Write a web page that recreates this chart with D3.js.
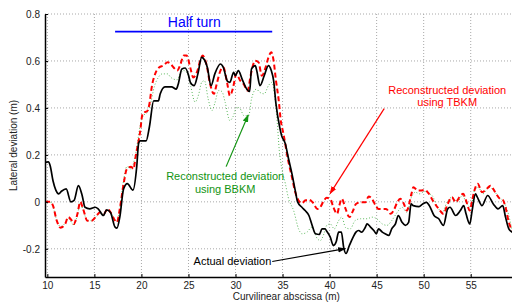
<!DOCTYPE html>
<html>
<head>
<meta charset="utf-8">
<script src="https://cdn.jsdelivr.net/npm/d3@7"></script>
<style>
  body { margin: 0; background: #fff; }
  svg { display: block; font-family: "Liberation Sans", Arial, sans-serif; }
  .grid line { stroke: #a8a8a8; stroke-dasharray: 1,2; }
  .axis path, .axis line { stroke: #000; }
  .axis text { fill: #222; font-size: 10px; }
</style>
</head>
<body>
<svg width="512" height="303"></svg>
<script>
var xTicks = [10, 15, 20, 25, 30, 35, 40, 45, 50, 55],
    yTicks = [-0.2, 0, 0.2, 0.4, 0.6, 0.8];

var actual = [[9.76,0.168],[10.1,0.17],[10.3,0.154],[10.6,0.09],[10.9,0.05],[11.2,0.034],[11.5,0.045],[12.0,0.055],[12.5,0.0],[12.84,0.006],[13.3,0.069],[13.7,0.027],[14.0,-0.023],[14.5,-0.03],[15.1,-0.023],[15.4,-0.03],[15.96,-0.058],[16.3,-0.034],[16.7,-0.044],[17.2,-0.108],[17.4,-0.112],[17.7,-0.065],[18.1,0.055],[18.5,0.078],[19.1,0.05],[19.5,0.15],[19.7,0.25],[19.85,0.26],[20.5,0.26],[20.85,0.32],[21.3,0.43],[21.8,0.43],[22.0,0.46],[22.5,0.49],[23.2,0.49],[23.7,0.48],[23.9,0.5],[24.3,0.566],[24.65,0.57],[25.0,0.54],[25.2,0.509],[25.6,0.495],[26.0,0.545],[26.4,0.615],[26.6,0.61],[27.0,0.573],[27.4,0.495],[27.8,0.545],[28.4,0.587],[28.7,0.573],[29.15,0.513],[29.4,0.509],[29.8,0.552],[29.97,0.537],[30.3,0.559],[30.7,0.523],[31.2,0.48],[31.5,0.47],[31.7,0.566],[32.1,0.58],[32.25,0.56],[32.6,0.495],[33.05,0.537],[33.5,0.58],[33.8,0.559],[34.05,0.516],[34.3,0.417],[34.7,0.317],[34.9,0.282],[35.3,0.247],[35.6,0.19],[36.0,0.119],[36.35,0.048],[36.6,0.0],[37.06,-0.023],[37.4,-0.037],[37.8,-0.058],[38.1,-0.094],[38.5,-0.136],[38.9,-0.139],[39.2,-0.115],[39.5,-0.115],[39.7,-0.125],[40.07,-0.15],[40.4,-0.186],[40.7,-0.17],[40.96,-0.129],[41.25,-0.129],[41.5,-0.195],[41.75,-0.22],[42.1,-0.186],[42.5,-0.15],[42.8,-0.129],[43.1,-0.122],[43.4,-0.129],[43.8,-0.108],[43.98,-0.094],[44.3,-0.105],[44.7,-0.122],[44.97,-0.136],[45.2,-0.115],[45.6,-0.129],[45.9,-0.136],[46.3,-0.143],[46.6,-0.115],[47.0,-0.094],[47.3,-0.058],[47.7,-0.087],[48.05,-0.1],[48.4,-0.087],[48.66,-0.009],[48.9,-0.016],[49.5,-0.02],[49.9,-0.009],[50.3,-0.002],[50.6,-0.016],[51.1,-0.058],[51.6,-0.072],[52.1,-0.1],[52.55,-0.03],[52.8,-0.023],[53.4,-0.058],[53.9,-0.037],[54.25,-0.016],[54.5,-0.051],[54.9,-0.094],[55.15,-0.037],[55.5,0.034],[55.7,0.02],[56.2,-0.016],[56.8,0.027],[57.4,-0.009],[57.9,-0.03],[58.4,-0.016],[58.7,-0.065],[59.05,-0.115],[59.4,-0.129]];

var tbkm = [[9.76,0.0],[10.3,0.0],[10.6,-0.016],[11.0,-0.08],[11.4,-0.11],[11.9,-0.094],[12.2,-0.065],[12.6,-0.08],[12.8,-0.094],[13.2,-0.051],[13.5,0.0],[13.8,-0.03],[14.26,-0.08],[14.7,-0.08],[15.25,-0.058],[15.6,-0.044],[16.0,-0.051],[16.4,-0.03],[16.7,-0.044],[17.2,-0.08],[17.4,-0.087],[17.7,-0.03],[18.1,0.075],[18.45,0.14],[18.9,0.15],[19.15,0.14],[19.4,0.197],[19.7,0.26],[19.9,0.31],[20.04,0.36],[20.2,0.38],[20.6,0.386],[20.85,0.417],[21.1,0.49],[21.46,0.545],[21.9,0.573],[22.3,0.58],[22.8,0.594],[23.05,0.59],[23.4,0.573],[23.8,0.559],[24.1,0.58],[24.5,0.623],[24.8,0.623],[25.2,0.57],[25.5,0.53],[25.9,0.552],[26.3,0.608],[26.5,0.623],[26.9,0.587],[27.3,0.502],[27.7,0.46],[28.0,0.502],[28.4,0.559],[28.7,0.573],[29.1,0.509],[29.4,0.452],[29.7,0.48],[30.1,0.545],[30.5,0.516],[30.85,0.502],[31.3,0.474],[31.6,0.537],[32.1,0.601],[32.45,0.594],[32.8,0.537],[33.2,0.573],[33.5,0.615],[33.8,0.637],[34.05,0.601],[34.3,0.516],[34.6,0.43],[34.8,0.35],[35.1,0.289],[35.6,0.176],[36.0,0.105],[36.35,0.041],[36.7,0.006],[37.06,-0.006],[37.4,0.006],[37.8,0.009],[38.2,-0.002],[38.7,-0.03],[39.0,-0.023],[39.4,0.006],[39.7,0.017],[40.07,0.013],[40.4,-0.023],[40.8,-0.051],[41.03,-0.016],[41.3,0.013],[41.7,-0.03],[42.1,-0.065],[42.5,-0.037],[42.8,-0.009],[43.3,-0.002],[43.8,-0.002],[44.15,0.023],[44.5,0.013],[44.9,-0.016],[45.2,-0.03],[45.6,-0.03],[46.0,-0.03],[46.5,-0.051],[46.8,-0.037],[47.2,-0.002],[47.5,0.013],[47.9,-0.009],[48.2,-0.037],[48.7,0.034],[48.9,0.062],[49.4,0.048],[49.7,0.048],[50.1,0.051],[50.45,0.04],[51.06,0.0],[51.6,-0.03],[52.1,-0.051],[52.55,-0.009],[53.0,0.02],[53.4,-0.002],[53.8,0.02],[54.2,0.034],[54.5,0.006],[54.9,-0.037],[55.15,0.006],[55.5,0.062],[55.75,0.077],[56.2,0.041],[56.7,0.055],[57.1,0.069],[57.6,0.041],[58.1,0.013],[58.4,0.009],[58.7,-0.023],[59.05,-0.087],[59.4,-0.122]];

var bbkm = [[9.76,0.0],[10.3,0.0],[10.6,-0.02],[11.0,-0.08],[11.4,-0.105],[11.9,-0.09],[12.2,-0.07],[12.6,-0.09],[12.8,-0.1],[13.2,-0.055],[13.5,-0.005],[13.8,-0.035],[14.26,-0.08],[14.7,-0.08],[15.25,-0.06],[15.6,-0.045],[16.0,-0.055],[16.4,-0.035],[16.7,-0.045],[17.2,-0.075],[17.4,-0.085],[17.7,-0.03],[18.1,0.09],[18.45,0.15],[18.9,0.14],[19.4,0.21],[19.9,0.33],[20.2,0.367],[20.6,0.38],[21.0,0.424],[21.35,0.488],[21.8,0.53],[22.2,0.545],[22.8,0.545],[23.05,0.533],[23.4,0.523],[23.8,0.52],[24.1,0.545],[24.5,0.559],[24.9,0.545],[25.25,0.49],[25.7,0.425],[26.1,0.46],[26.4,0.509],[26.7,0.516],[27.1,0.437],[27.5,0.389],[27.8,0.42],[28.2,0.474],[28.55,0.47],[28.9,0.424],[29.4,0.346],[29.7,0.36],[30.15,0.403],[30.5,0.396],[30.9,0.367],[31.4,0.367],[31.7,0.438],[32.2,0.48],[32.6,0.466],[33.05,0.46],[33.5,0.495],[33.85,0.509],[34.2,0.44],[34.45,0.33],[34.65,0.22],[34.9,0.147],[35.3,0.077],[35.6,0.02],[36.2,-0.04],[36.7,-0.115],[37.06,-0.136],[37.6,-0.129],[38.1,-0.108],[38.7,-0.157],[39.0,-0.165],[39.4,-0.136],[39.7,-0.1],[40.07,-0.094],[40.5,-0.115],[40.96,-0.08],[41.3,-0.065],[41.7,-0.11],[42.2,-0.115],[42.7,-0.08],[43.3,-0.072],[44.0,-0.072],[44.5,-0.065],[45.0,-0.072],[45.6,-0.094],[46.1,-0.1],[46.6,-0.08],[47.2,-0.044],[47.7,-0.023],[48.2,-0.044],[48.7,0.02],[49.1,0.041],[49.6,0.034],[50.1,0.045],[50.6,0.034],[50.9,0.027],[51.4,-0.016],[51.96,-0.044],[52.5,0.0],[53.0,0.02],[53.6,0.0],[54.1,0.027],[54.6,-0.009],[55.0,-0.023],[55.4,0.048],[55.8,0.062],[56.3,0.034],[56.9,0.062],[57.45,0.048],[57.98,0.02],[58.5,0.0],[58.9,-0.037],[59.4,-0.122]];

var halfTurn = [17.2, 33.9];

var svg = d3.select("svg"),
    margin = {top: 14, right: -2, bottom: 26, left: 45},
    width = +svg.attr("width") - margin.left - margin.right,
    height = +svg.attr("height") - margin.top - margin.bottom;

var x = d3.scaleLinear().domain([9.75, 59.6]).range([0, width]),
    y = d3.scaleLinear().domain([-0.32, 0.8]).range([height, 0]);

var g = svg.append("g")
    .attr("transform", "translate(" + margin.left + "," + margin.top + ")");

var defs = svg.append("defs");
defs.append("clipPath").attr("id", "clip")
  .append("rect").attr("width", width).attr("height", height);

[["arrowRed", "#ff0000"], ["arrowGreen", "#129412"], ["arrowBlack", "#000"]].forEach(function(m) {
  defs.append("marker")
      .attr("id", m[0])
      .attr("viewBox", "0 0 10 10")
      .attr("refX", 9).attr("refY", 5)
      .attr("markerUnits", "userSpaceOnUse")
      .attr("markerWidth", 8).attr("markerHeight", 8)
      .attr("orient", "auto")
    .append("path")
      .attr("d", "M0,1.5L10,5L0,8.5z")
      .attr("fill", m[1]);
});

// grid
g.append("g").attr("class", "grid")
  .selectAll("line").data(xTicks).enter().append("line")
    .attr("x1", function(d) { return x(d); }).attr("x2", function(d) { return x(d); })
    .attr("y1", 0).attr("y2", height);
g.append("g").attr("class", "grid")
  .selectAll("line").data(yTicks).enter().append("line")
    .attr("y1", function(d) { return y(d); }).attr("y2", function(d) { return y(d); })
    .attr("x1", 0).attr("x2", width);

var line = d3.line()
    .x(function(d) { return x(d[0]); })
    .y(function(d) { return y(d[1]); })
    .curve(d3.curveMonotoneX);

var plot = g.append("g").attr("clip-path", "url(#clip)");

plot.append("path").datum(bbkm)
    .attr("fill", "none").attr("stroke", "#5cb85c")
    .attr("stroke-width", 1).attr("stroke-dasharray", "1,2")
    .attr("d", line);
plot.append("path").datum(tbkm)
    .attr("fill", "none").attr("stroke", "#ff0000")
    .attr("stroke-width", 2).attr("stroke-dasharray", "5,3")
    .attr("d", line);
plot.append("path").datum(actual)
    .attr("fill", "none").attr("stroke", "#000")
    .attr("stroke-width", 1.7)
    .attr("d", line);

// axes
g.append("g")
    .attr("class", "axis")
    .attr("transform", "translate(0," + height + ")")
    .call(d3.axisBottom(x).tickValues(xTicks).tickSizeInner(-3).tickSizeOuter(0).tickPadding(5))
    .call(function(a) { a.select(".domain").attr("stroke-width", 1.5); });

g.append("g")
    .attr("class", "axis")
    .call(d3.axisLeft(y).tickValues(yTicks).tickSizeInner(-3).tickSizeOuter(0).tickPadding(5)
      .tickFormat(function(d) { return d === 0 ? "0" : String(d).replace("\u2212", "-"); }))
    .call(function(a) { a.select(".domain").attr("stroke-width", 1.5); });

g.append("text")
    .attr("x", x(35.4)).attr("y", height + 23)
    .attr("text-anchor", "middle")
    .attr("font-size", "10px").attr("fill", "#222")
    .text("Curvilinear abscissa (m)");

g.append("text")
    .attr("transform", "translate(" + (-28) + "," + y(0.24) + ") rotate(-90)")
    .attr("text-anchor", "middle")
    .attr("font-size", "10px").attr("fill", "#222")
    .text("Lateral deviation (m)");

// half turn
g.append("line")
    .attr("x1", x(halfTurn[0])).attr("x2", x(halfTurn[1]))
    .attr("y1", y(0.725)).attr("y2", y(0.725))
    .attr("stroke", "#0000ff").attr("stroke-width", 1.8);
g.append("text")
    .attr("x", x(22.8)).attr("y", y(0.746))
    .attr("font-size", "14px").attr("fill", "#0000ff")
    .text("Half turn");

// annotations
function arrow(x1, y1, x2, y2, color, marker) {
  g.append("line")
      .attr("x1", x(x1)).attr("y1", y(y1))
      .attr("x2", x(x2)).attr("y2", y(y2))
      .attr("stroke", color).attr("stroke-width", 1.2)
      .attr("marker-end", "url(#" + marker + ")");
}
function label(cx, cy, lines, color, anchor) {
  var t = g.append("text")
      .attr("x", x(cx)).attr("y", y(cy))
      .attr("text-anchor", anchor)
      .attr("font-size", "11px").attr("fill", color);
  lines.forEach(function(s, i) {
    t.append("tspan").attr("x", x(cx)).attr("dy", i ? 12.5 : 0).text(s);
  });
}

arrow(45.8, 0.397, 40.05, 0.035, "#ff0000", "arrowRed");
label(52.5, 0.46, ["Reconstructed deviation", "using TBKM"], "#ff0000", "middle");

arrow(29.0, 0.15, 31.35, 0.37, "#129412", "arrowGreen");
label(28.9, 0.093, ["Reconstructed deviation", "using BBKM"], "#129412", "middle");

arrow(33.9, -0.254, 41.67, -0.199, "#000", "arrowBlack");
label(33.8, -0.271, ["Actual deviation"], "#000", "end");
</script>
</body>
</html>
